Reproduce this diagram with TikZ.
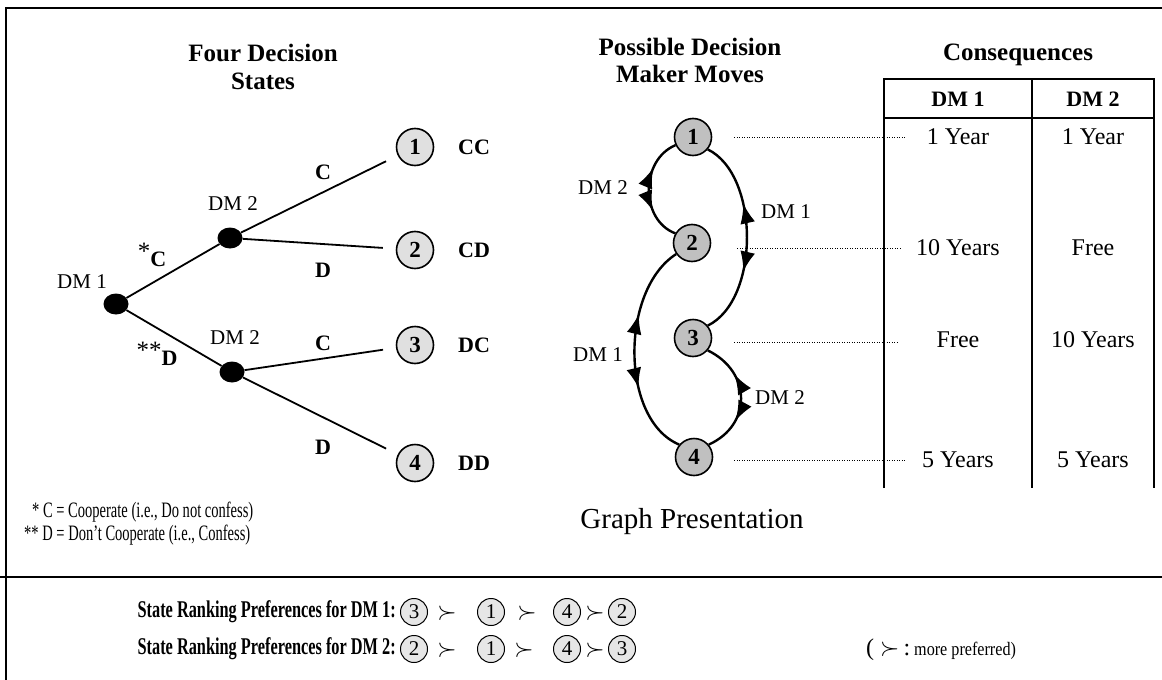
\documentclass[tikz,border=0pt]{standalone}
\usepackage{fontspec}
\setmainfont{Liberation Serif}
\usepackage{graphicx}
\usetikzlibrary{arrows.meta,decorations.markings,shapes.geometric}
\definecolor{tfill}{HTML}{E0E0E0}
\definecolor{gfill}{HTML}{C0C0C0}
\definecolor{pfill}{HTML}{E6E6E6}
\newcommand{\fs}[1]{\fontsize{#1}{#1}\selectfont}
\begin{document}
\begin{tikzpicture}[x=1pt,y=-1pt,
  frame/.style={line width=2pt},
  dmnode/.style={ellipse,fill=black,minimum width=25pt,minimum height=21pt,inner sep=0pt},
  tstate/.style={circle,draw,line width=1.6pt,fill=tfill,minimum size=37pt,inner sep=0pt,font=\fs{23}\bfseries},
  gstate/.style={circle,draw,line width=1.6pt,fill=gfill,minimum size=37pt,inner sep=0pt,font=\fs{23}\bfseries},
  pstate/.style={circle,draw,line width=1pt,fill=pfill,minimum size=27pt,inner sep=0pt,font=\fs{21}},
  branch/.style={line width=1.8pt},
  lbl/.style={font=\fs{21},inner sep=0pt},
  blbl/.style={font=\fs{22}\bfseries,inner sep=0pt},
  head/.style={font=\fs{25}\bfseries,align=center,inner sep=0pt},
  cell/.style={font=\fs{24},inner sep=0pt},
  tabline/.style={line width=2.5pt},
  dotline/.style={line width=1pt,dash pattern=on 1pt off 1.5pt},
  twoway/.style={line width=2.4pt,postaction={decorate},decoration={markings,
     mark=at position #1 with {\arrowreversed{Latex[length=20pt,width=15pt]}},
     mark=at position 1-#1 with {\arrow{Latex[length=20pt,width=15pt]}}}},
  pref/.style={font=\fs{24}\bfseries,inner sep=0pt},
  suc/.style={font=\fs{26},inner sep=0pt}
]
\useasboundingbox (0,0) rectangle (1162,680);
% frame
\draw[frame] (6,680) -- (6,8) -- (1162,8);
\draw[frame] (0,577) -- (1162,577);

% headings
\node[head] (h1) at (263,67) {Four Decision\\[3pt]States};
\node[head] (h2) at (690,60) {Possible Decision\\[2pt]Maker Moves};
\node[head] (h3) at (1018,55) {Consequences};

% tree
\node[dmnode] (dm1) at (116,304) {};
\node[dmnode] (dm2u) at (230,238) {};
\node[dmnode] (dm2l) at (232,372) {};
\node[tstate] (s1) at (415,147) {1};
\node[tstate] (s2) at (415,250) {2};
\node[tstate] (s3) at (415,345) {3};
\node[tstate] (s4) at (415,463) {4};
\draw[branch] (dm1) -- (dm2u);
\draw[branch] (dm1) -- (dm2l);
\draw[branch,shorten >=13pt] (dm2u) -- (s1);
\draw[branch,shorten >=13pt] (dm2u) -- (s2);
\draw[branch,shorten >=13pt] (dm2l) -- (s3);
\draw[branch,shorten >=13pt] (dm2l) -- (s4);
\node[lbl] (l1) at (82,282) {DM 1};
\node[lbl] (l2) at (233,204) {DM 2};
\node[lbl] (l3) at (235,338) {DM 2};
\node[blbl] (c1) at (323,172) {C};
\node[blbl] (d1) at (323,270) {D};
\node[blbl] (c2) at (323,343) {C};
\node[blbl] (d2) at (323,447) {D};
\node[inner sep=0pt] (sc) at (152,255) {\fs{25}*\raisebox{-7pt}{\fs{22}\bfseries C}};
\node[inner sep=0pt] (sd) at (157,354) {\fs{25}**\raisebox{-7pt}{\fs{22}\bfseries D}};
\node[blbl,anchor=west] (cc) at (458,147) {CC};
\node[blbl,anchor=west] (cd) at (458,250) {CD};
\node[blbl,anchor=west] (dc) at (458,345) {DC};
\node[blbl,anchor=west] (dd) at (458,463) {DD};
\node[anchor=west,inner sep=0pt] (f1) at (32,512) {\scalebox{0.66}[1]{\fs{22}* C = Cooperate (i.e., Do not confess)}};
\node[anchor=west,inner sep=0pt] (f2) at (24,535) {\scalebox{0.66}[1]{\fs{22}** D = Don’t Cooperate (i.e., Confess)}};

% graph
\node[gstate] (g1) at (693,137) {1};
\node[gstate] (g2) at (692,243) {2};
\node[gstate] (g3) at (693,338) {3};
\node[gstate] (g4) at (694,457) {4};
\draw[twoway=0.3] (g1.205) .. controls (640,160) and (640,220) .. (g2.150);
\draw[twoway=0.33] (g1.320) .. controls (760,175) and (760,300) .. (g3.40);
\draw[twoway=0.33] (g2.215) .. controls (620,290) and (620,420) .. (g4.140);
\draw[twoway=0.3] (g3.320) .. controls (752,372) and (752,425) .. (g4.40);
\node[lbl] (m1) at (603,188) {DM 2};
\node[lbl] (m2) at (786,212) {DM 1};
\node[lbl] (m3) at (598,355) {DM 1};
\node[lbl] (m4) at (780,398) {DM 2};
\node[font=\fs{29},inner sep=0pt] (gp) at (692,522) {Graph Presentation};

% dotted links
\coordinate (e1) at (905,137);
\coordinate (e2) at (900,248);
\coordinate (e3) at (898,342);
\coordinate (e4) at (906,460);
\draw[dotline] ([xshift=22pt]g1.east) -- (e1);
\draw[dotline] ([xshift=26pt,yshift=-5pt]g2.east) -- (e2);
\draw[dotline] ([xshift=22pt,yshift=-4pt]g3.east) -- (e3);
\draw[dotline] ([xshift=21pt,yshift=-3pt]g4.east) -- (e4);

% table
\draw[tabline] (884,488) -- (884,79) -- (1154,79) -- (1154,488);
\draw[tabline] (1032,79) -- (1032,488);
\draw[tabline] (884,118) -- (1154,118);
\node[blbl] (t1) at (958,99) {DM 1};
\node[blbl] (t2) at (1093,99) {DM 2};
\node[cell] (a1) at (958,137) {1 Year};
\node[cell] (b1) at (1093,137) {1 Year};
\node[cell] (a2) at (958,248) {10 Years};
\node[cell] (b2) at (1093,248) {Free};
\node[cell] (a3) at (958,340) {Free};
\node[cell] (b3) at (1093,340) {10 Years};
\node[cell] (a4) at (958,460) {5 Years};
\node[cell] (b4) at (1093,460) {5 Years};

% preferences
\node[pref,anchor=east] (r1) at (396,612) {\scalebox{0.68}[1]{State Ranking Preferences for DM 1:}};
\node[pstate] (p13) at (414,612) {3};
\node[suc] (q11) at (447,613) {$\succ$};
\node[pstate] (p11) at (491,612) {1};
\node[suc] (q12) at (527,613) {$\succ$};
\node[pstate] (p14) at (567,612) {4};
\node[suc] (q13) at (595,613) {$\succ$};
\node[pstate] (p12) at (622,612) {2};
\node[pref,anchor=east] (r2) at (396,649) {\scalebox{0.68}[1]{State Ranking Preferences for DM 2:}};
\node[pstate] (p22) at (414,649) {2};
\node[suc] (q21) at (447,650) {$\succ$};
\node[pstate] (p21) at (491,649) {1};
\node[suc] (q22) at (524,650) {$\succ$};
\node[pstate] (p24) at (567,649) {4};
\node[suc] (q23) at (595,650) {$\succ$};
\node[pstate] (p23) at (622,649) {3};
\node[anchor=west,inner sep=0pt] (note) at (866,650) {\fs{24}( $\succ$\,:\,\scalebox{0.85}[1]{\fs{19}more preferred)}};
\end{tikzpicture}
\end{document}
